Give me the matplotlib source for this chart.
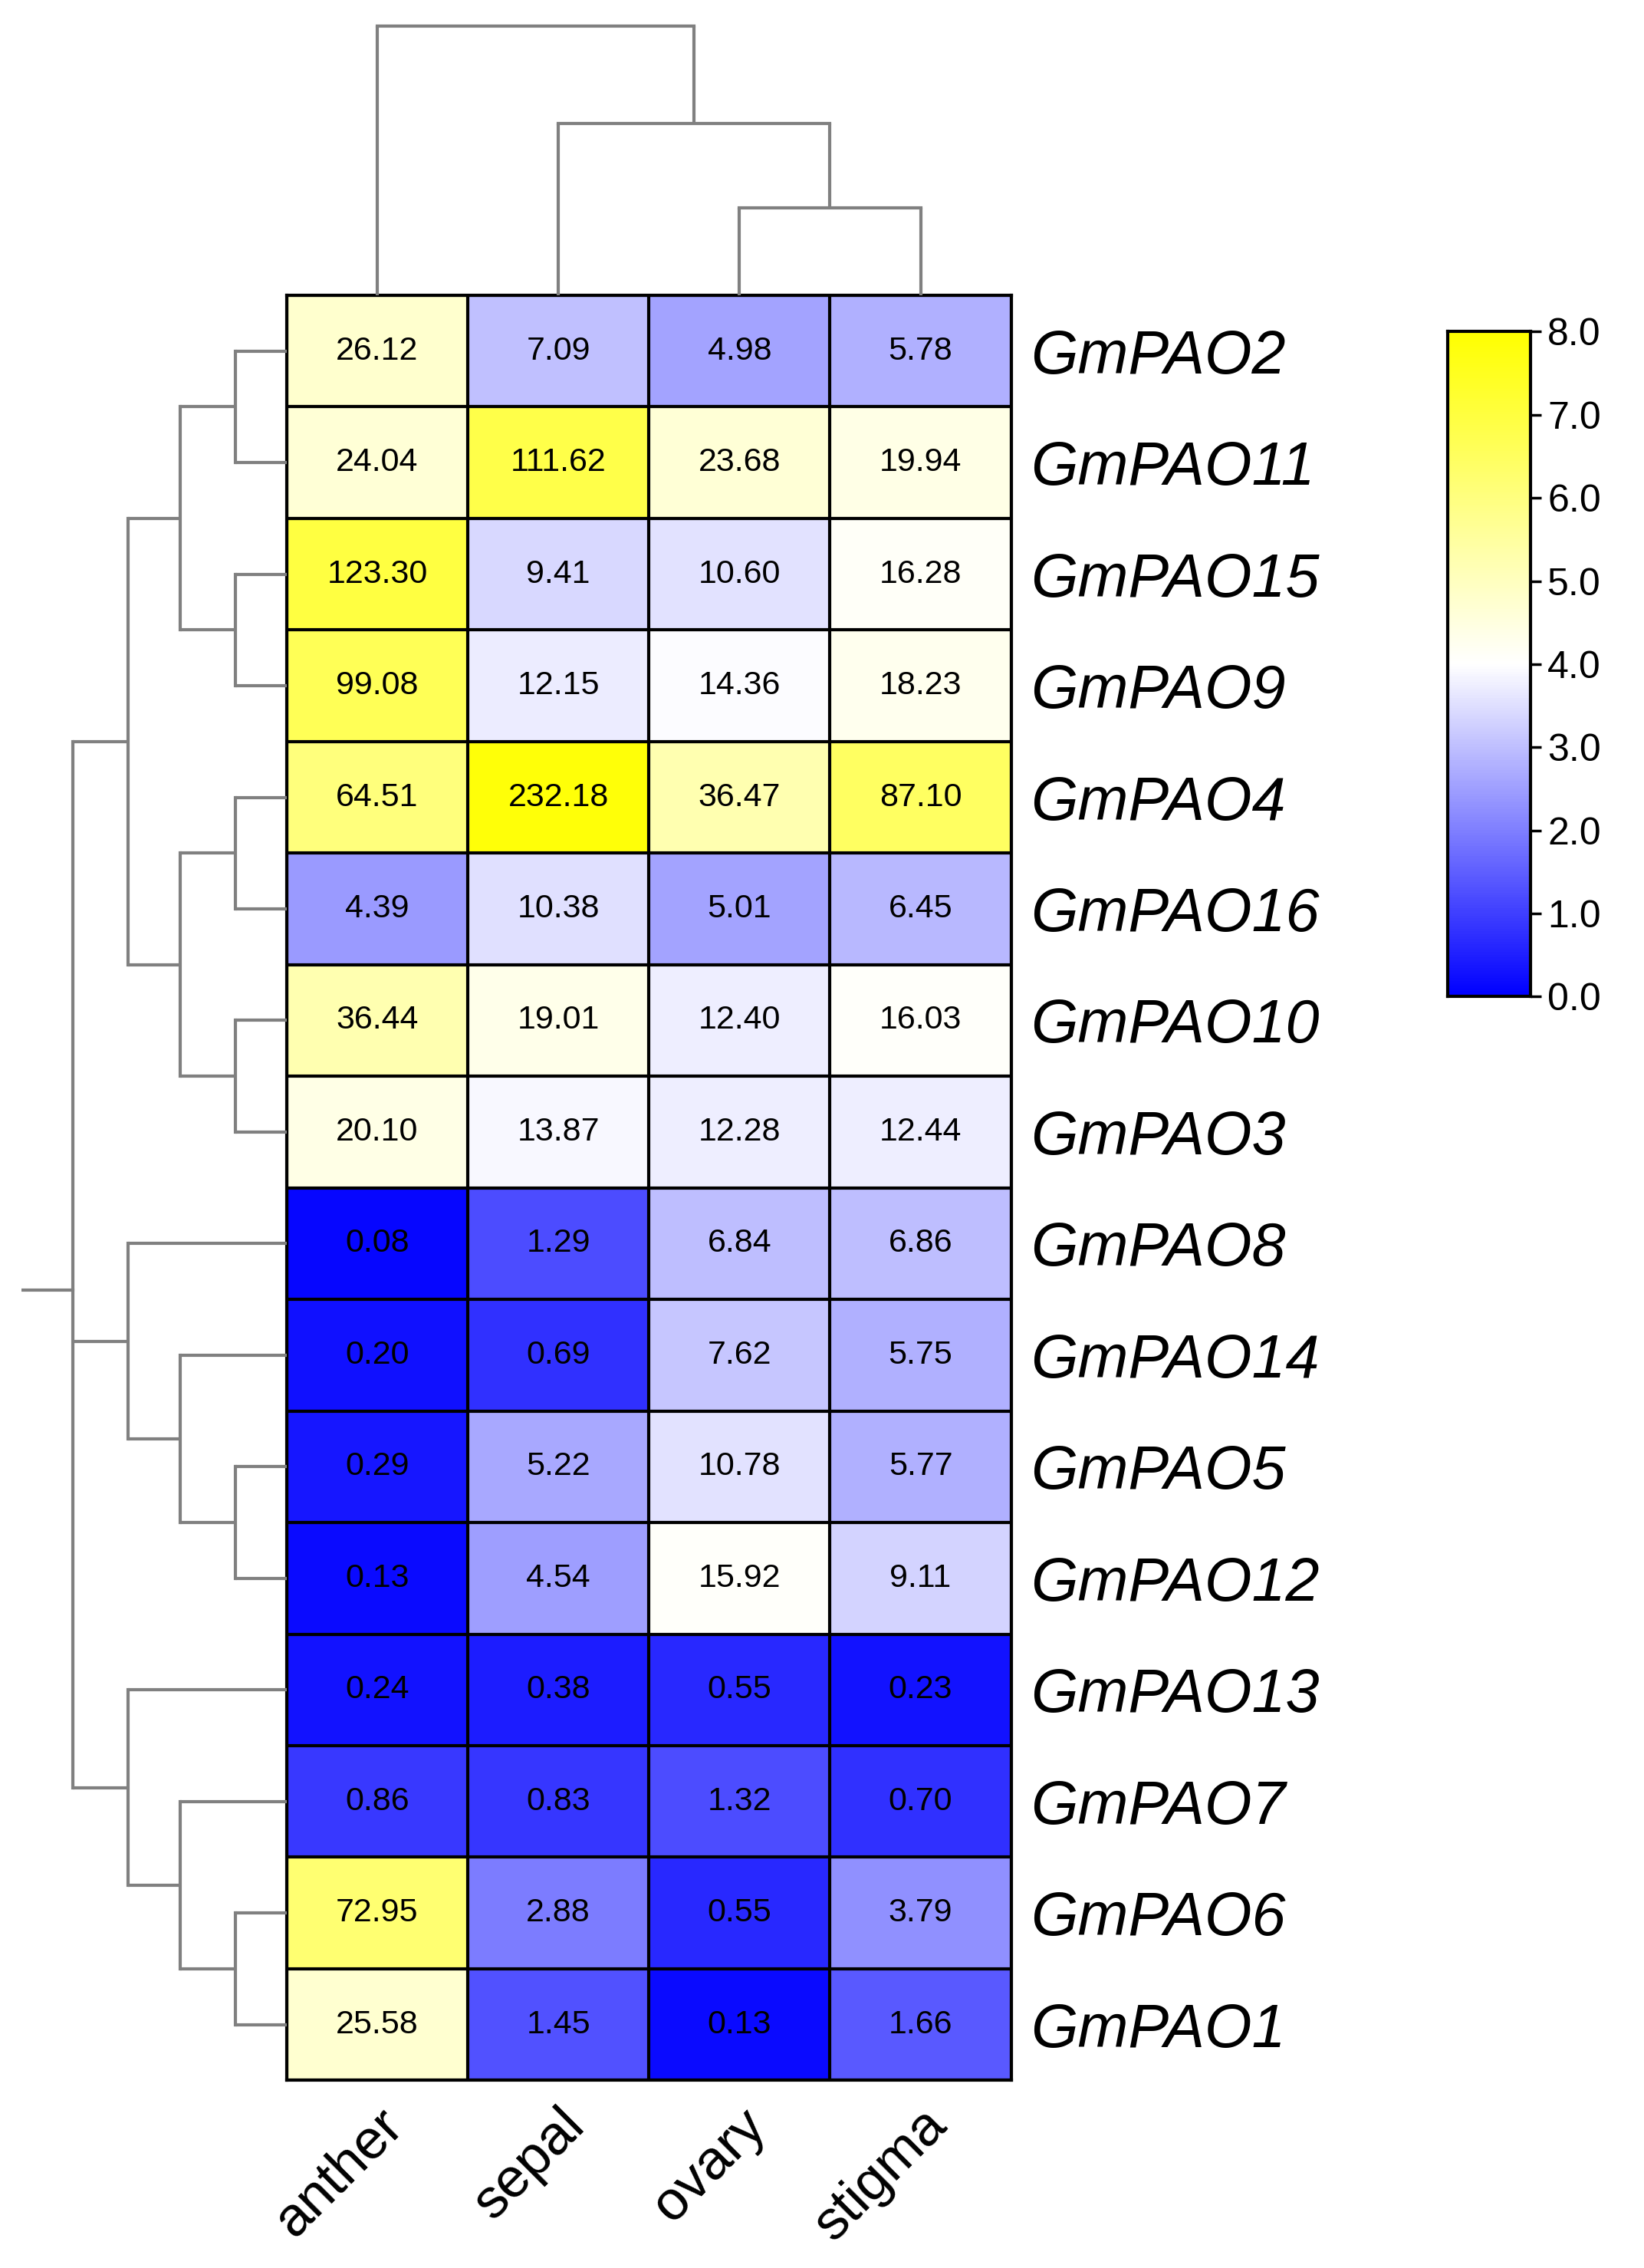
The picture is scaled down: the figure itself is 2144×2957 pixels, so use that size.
import numpy as np
import matplotlib
matplotlib.use("Agg")
import matplotlib.pyplot as plt
from matplotlib.colors import LinearSegmentedColormap

genes = ["GmPAO2","GmPAO11","GmPAO15","GmPAO9","GmPAO4","GmPAO16","GmPAO10","GmPAO3",
         "GmPAO8","GmPAO14","GmPAO5","GmPAO12","GmPAO13","GmPAO7","GmPAO6","GmPAO1"]
tissues = ["anther","sepal","ovary","stigma"]
anther = [26.12,24.04,123.30,99.08,64.51,4.39,36.44,20.10,0.08,0.20,0.29,0.13,0.24,0.86,72.95,25.58]
sepal  = [7.09,111.62,9.41,12.15,232.18,10.38,19.01,13.87,1.29,0.69,5.22,4.54,0.38,0.83,2.88,1.45]
ovary  = [4.98,23.68,10.60,14.36,36.47,5.01,12.40,12.28,6.84,7.62,10.78,15.92,0.55,1.32,0.55,0.13]
stigma = [5.78,19.94,16.28,18.23,87.10,6.45,16.03,12.44,6.86,5.75,5.77,9.11,0.23,0.70,3.79,1.66]
cbar_ticks = [0.0,1.0,2.0,3.0,4.0,5.0,6.0,7.0,8.0]

# dendrogram trees: (height, [children]) ; leaves are ints
row_tree = (147, [
    (109, [(73, [(35, [0, 1]), (35, [2, 3])]), (73, [(35, [4, 5]), (35, [6, 7])])]),
    (109, [8, (73, [9, (35, [10, 11])])]),
    (109, [12, (73, [13, (35, [14, 15])])]),
])
row_root_stub = 182
col_tree = (185, [0, (118, [1, (60, [2, 3])])])

vals = np.array([anther, sepal, ovary, stigma]).T
logv = np.log2(vals + 1)
cmap = LinearSegmentedColormap.from_list("bwy", [(0, "#0000ff"), (0.5, "#ffffff"), (1, "#ffff00")])

W, H = 2144, 2957
fig = plt.figure(figsize=(W/100, H/100), dpi=100)
dw, dh = 1130.0, 1559.0
def ax_at(x0, y0, x1, y1):
    return fig.add_axes([x0/dw, 1-y1/dh, (x1-x0)/dw, (y1-y0)/dh])

FONT = "Liberation Sans"
ax = ax_at(197, 203, 695, 1430)
ax.imshow(logv, cmap=cmap, vmin=0, vmax=8, aspect="auto", interpolation="nearest",
          extent=(-0.5, 3.5, 15.5, -0.5))
for i in range(17):
    ax.axhline(i-0.5, color="black", lw=3)
for j in range(5):
    ax.axvline(j-0.5, color="black", lw=3)
for i in range(16):
    for j in range(4):
        ax.text(j, i, f"{vals[i, j]:.2f}", ha="center", va="center", fontsize=31, family=FONT)
ax.set_xlim(-0.5, 3.5); ax.set_ylim(15.5, -0.5)
ax.set_xticks(range(4))
ax.set_xticklabels(tissues, rotation=45, ha="right", rotation_mode="anchor", fontsize=52, family=FONT)
ax.set_yticks(range(16))
ax.set_yticklabels(genes, fontsize=57, family=FONT, style="italic")
ax.yaxis.tick_right()
ax.tick_params(length=0, pad=18)
for s in ax.spines.values():
    s.set_linewidth(3)

GRAY = "#808080"; LW = 3.0
def draw(node, axd, orient):
    if isinstance(node, int):
        return node, 0
    h, ch = node
    pos = [draw(c, axd, orient) for c in ch]
    ps = [p for p, _ in pos]
    for p, ch_h in pos:
        if orient == "row":
            axd.plot([ch_h, h], [p, p], color=GRAY, lw=LW, solid_capstyle="butt")
        else:
            axd.plot([p, p], [ch_h, h], color=GRAY, lw=LW, solid_capstyle="butt")
    if orient == "row":
        axd.plot([h, h], [min(ps), max(ps)], color=GRAY, lw=LW, solid_capstyle="projecting")
    else:
        axd.plot([min(ps), max(ps)], [h, h], color=GRAY, lw=LW, solid_capstyle="projecting")
    return float(np.mean(ps)), h

axr = ax_at(15, 203, 197, 1430)
p, h = draw(row_tree, axr, "row")
axr.plot([h, row_root_stub], [p, p], color=GRAY, lw=LW)
axr.set_xlim(row_root_stub, 0); axr.set_ylim(15.5, -0.5); axr.axis("off")

axc = ax_at(197, 15, 695, 203)
draw(col_tree, axc, "col")
axc.set_xlim(-0.5, 3.5); axc.set_ylim(0, 188); axc.axis("off")

cax = ax_at(995, 228, 1052, 685)
grad = np.linspace(0, 8, 256).reshape(-1, 1)
cax.imshow(grad, cmap=cmap, vmin=0, vmax=8, aspect="auto", origin="lower", extent=(0, 1, 0, 8))
cax.set_xticks([])
cax.yaxis.tick_right()
cax.set_yticks(cbar_ticks)
cax.set_yticklabels([f"{t:.1f}" for t in cbar_ticks], fontsize=36, family=FONT)
cax.tick_params(axis="y", length=10, width=2.5, pad=6)
for s in cax.spines.values():
    s.set_linewidth(3)

fig.savefig("out.png", dpi=100)
